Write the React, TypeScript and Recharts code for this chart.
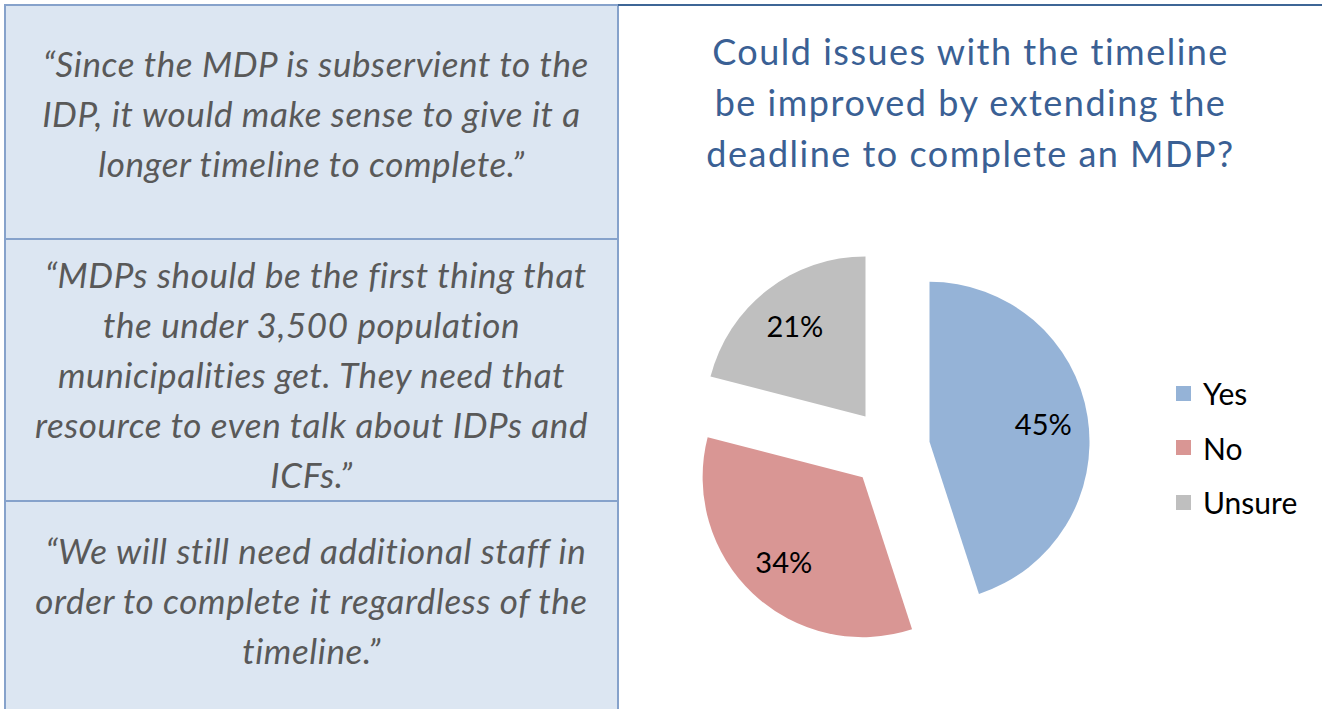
import React from 'react';
import { PieChart, Pie, Cell, Legend } from 'recharts';

// ---- data ----
const categories: string[] = ['Yes', 'No', 'Unsure'];
const values: number[] = [45, 34, 21];
const sliceColors: string[] = ['#95b3d7', '#d99694', '#bfbfbf'];

const titleLines: string[] = [
  'Could issues with the timeline',
  'be improved by extending the',
  'deadline to complete an MDP?',
];

const quote1: string[] = [
  '\u00A0\u201CSince the MDP is subservient to the',
  'IDP, it would make sense to give it a',
  'longer timeline to complete.\u201D',
];
const quote2: string[] = [
  '\u00A0\u201CMDPs should be the first thing that',
  'the under 3,500 population',
  'municipalities get. They need that',
  'resource to even talk about IDPs and',
  'ICFs.\u201D',
];
const quote3: string[] = [
  '\u00A0\u201CWe will still need additional staff in',
  'order to complete it regardless of the',
  'timeline.\u201D',
];

const data = categories.map((name, i) => ({ name, value: values[i] }));

// ---- layout constants ----
const FONT = 'Lato, "Open Sans", "Noto Sans", sans-serif';
const CHART_LEFT = 619;
const CHART_W = 1322 - CHART_LEFT;
const CHART_H = 709;
const CX = 271;
const CY = 448;
const R = 160;
const EXPLODE = 40;
const RAD = Math.PI / 180;

const total = values.reduce((a, b) => a + b, 0);
const midAngles = values.map((v, i) => {
  const before = values.slice(0, i).reduce((a, b) => a + b, 0);
  return 90 - ((before + v / 2) / total) * 360;
});

const makeLabel = (target: number) => (props: any) => {
  const { cx, cy, midAngle, outerRadius, index } = props;
  if (index !== target) return null;
  const rr = outerRadius * 0.72;
  const x = cx + rr * Math.cos(-midAngle * RAD);
  const y = cy + rr * Math.sin(-midAngle * RAD);
  return (
    <text
      x={x}
      y={y}
      textAnchor="middle"
      dominantBaseline="central"
      fontFamily={FONT}
      fontSize={29}
      fill="#000000"
    >
      {`${values[index]}%`}
    </text>
  );
};

const QuoteBox = ({ lines, top, height, padTop }: { lines: string[]; top: number; height: number; padTop: number }) => (
  <div
    style={{
      position: 'absolute',
      left: 4,
      top,
      width: 615,
      height,
      boxSizing: 'border-box',
      background: '#dce6f2',
      border: '2px solid #86a2cb',
      paddingTop: padTop,
      fontFamily: FONT,
      fontStyle: 'italic',
      fontSize: 35,
      letterSpacing: '0.6px',
      lineHeight: '50px',
      color: '#595959',
      textAlign: 'center',
    }}
  >
    {lines.map((l, i) => (
      <div key={i} style={{ whiteSpace: 'pre' }}>
        {l}
      </div>
    ))}
  </div>
);

const LegendContent = () => (
  <div style={{ fontFamily: FONT, fontSize: 30, color: '#000' }}>
    {categories.map((c, i) => (
      <div key={c} style={{ display: 'flex', alignItems: 'center', height: 54.5 }}>
        <span
          style={{
            display: 'inline-block',
            width: 15,
            height: 15,
            background: sliceColors[i],
            marginRight: 12,
          }}
        />
        <span>{c}</span>
      </div>
    ))}
  </div>
);

export default function App() {
  return (
    <div
      style={{
        position: 'absolute',
        left: 0,
        top: 0,
        width: 1322,
        height: 709,
        background: '#ffffff',
        overflow: 'hidden',
      }}
    >
      <QuoteBox lines={quote1} top={4} height={236} padTop={32} />
      <QuoteBox lines={quote2} top={238} height={264} padTop={9} />
      <QuoteBox lines={quote3} top={500} height={215} padTop={23} />

      <div
        style={{
          position: 'absolute',
          left: 618,
          top: 4,
          width: 704,
          height: 2,
          background: '#3e6696',
        }}
      />

      <div
        style={{
          position: 'absolute',
          left: CHART_LEFT,
          top: 26,
          width: CHART_W,
          textAlign: 'center',
          fontFamily: FONT,
          fontSize: 36,
          letterSpacing: '1.5px',
          lineHeight: '51px',
          color: '#3a6094',
        }}
      >
        {titleLines.map((l, i) => (
          <div key={i} style={{ whiteSpace: 'nowrap' }}>
            {l}
          </div>
        ))}
      </div>

      <div style={{ position: 'absolute', left: CHART_LEFT, top: 0 }}>
        <PieChart width={CHART_W} height={CHART_H} margin={{ top: 0, right: 0, bottom: 0, left: 0 }}>
          {categories.map((_, i) => (
            <Pie
              key={i}
              data={data}
              dataKey="value"
              nameKey="name"
              cx={CX + EXPLODE * Math.cos(midAngles[i] * RAD)}
              cy={CY - EXPLODE * Math.sin(midAngles[i] * RAD)}
              outerRadius={R}
              startAngle={90}
              endAngle={-270}
              stroke="none"
              labelLine={false}
              label={makeLabel(i)}
              isAnimationActive={false}
            >
              {data.map((d, j) => (
                <Cell key={d.name} fill={j === i ? sliceColors[j] : 'transparent'} stroke="none" />
              ))}
            </Pie>
          ))}
          <Legend
            content={<LegendContent />}
            wrapperStyle={{ position: 'absolute', left: 557, top: 366, width: 160, height: 170 }}
          />
        </PieChart>
      </div>
    </div>
  );
}
